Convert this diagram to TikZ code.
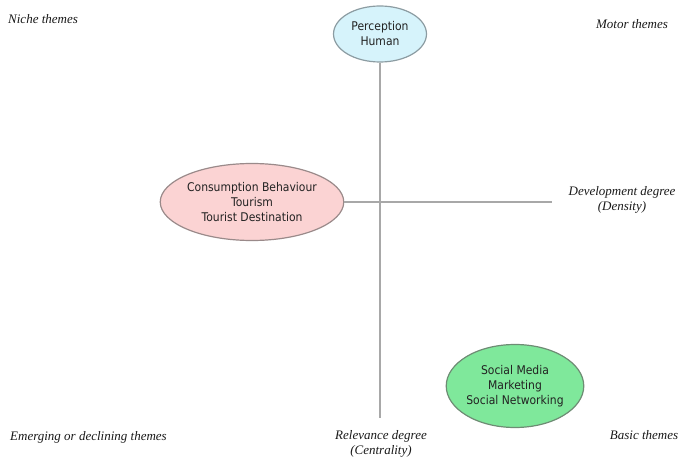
\documentclass[tikz,border=0pt]{standalone}
\usepackage{fontspec}
\setmainfont{Liberation Serif}
\newfontfamily\ellfont[FakeStretch=0.9]{DejaVu Sans}
\usetikzlibrary{shapes.geometric}
\definecolor{axisgray}{HTML}{A8A8A8}
\definecolor{bluefill}{HTML}{D6F3FB}
\definecolor{blueedge}{HTML}{8C9CA2}
\definecolor{pinkfill}{HTML}{FBD3D3}
\definecolor{pinkedge}{HTML}{9A8A8A}
\definecolor{greenfill}{HTML}{7FE89B}
\definecolor{greenedge}{HTML}{6E8C74}
\definecolor{txt}{HTML}{222222}
\tikzset{
  theme/.style={ellipse, draw, line width=1.2pt, inner sep=0pt, align=center,
    font=\ellfont\fontsize{12}{15}\selectfont, text=txt},
  lbl/.style={font=\itshape\fontsize{13}{15}\selectfont, align=center, inner sep=0pt, text=black!90},
  axis/.style={draw=axisgray, line width=1.6pt}
}
\begin{document}
\begin{tikzpicture}[x=1pt,y=-1pt]
\useasboundingbox (0,0) rectangle (682,465);
\node[theme, fill=bluefill, draw=blueedge, minimum width=93pt, minimum height=56pt] (perc) at (380,34) {Perception\\Human};
\node[theme, fill=pinkfill, draw=pinkedge, minimum width=183pt, minimum height=77pt] (cons) at (252,202) {Consumption Behaviour\\Tourism\\Tourist Destination};
\node[theme, fill=greenfill, draw=greenedge, minimum width=132pt, minimum height=83pt] (soc) at (515,386) {Social Media\\Marketing\\Social Networking};
\coordinate (vbot) at (380,418);
\coordinate (hend) at (552,202);
\draw[axis] (perc.south) -- (vbot);
\draw[axis] (cons.east) -- (hend);
\node[lbl, anchor=west] (niche) at (8,19) {Niche themes};
\node[lbl] (motor) at (632,24) {Motor themes};
\node[lbl] (dev) at (622,200) {Development degree\\(Density)};
\node[lbl, anchor=west] (emerg) at (10,437) {Emerging or declining themes};
\node[lbl] (rel) at (381,444) {Relevance degree\\(Centrality)};
\node[lbl] (basic) at (644,435) {Basic themes};
\end{tikzpicture}
\end{document}
